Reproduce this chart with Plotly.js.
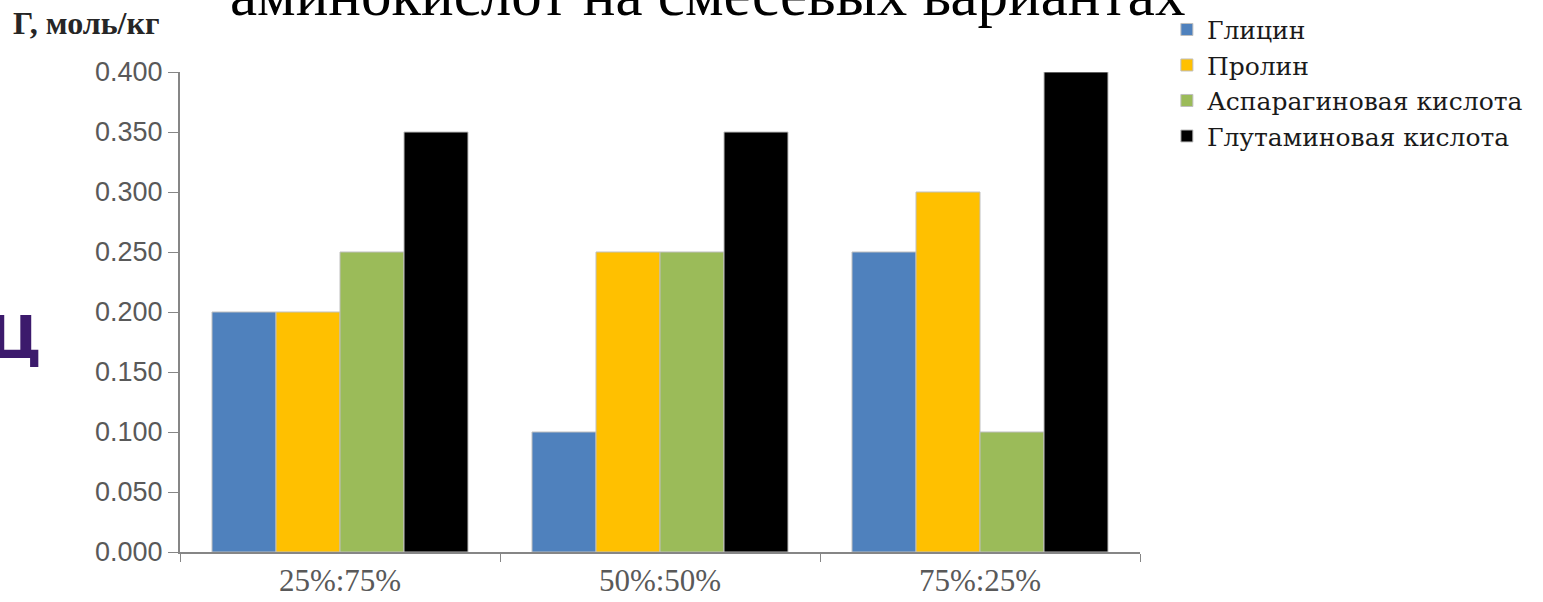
<!DOCTYPE html>
<html>
<head>
<meta charset="utf-8">
<script src="https://cdn.plot.ly/plotly-3.0.1.min.js"></script>
<style>html,body{margin:0;padding:0;background:#fff;}#chart{width:1543px;height:602px;}</style>
</head>
<body>
<div id="chart"></div>
<script>
const categories = ["25%:75%", "50%:50%", "75%:25%"];
const seriesNames = ["Глицин", "Пролин", "Аспарагиновая кислота", "Глутаминовая кислота"];
const glycine = [0.200, 0.100, 0.250];
const proline = [0.200, 0.250, 0.300];
const asparticAcid = [0.250, 0.250, 0.100];
const glutamicAcid = [0.350, 0.350, 0.400];
const colors = ["#4f81bd", "#ffc000", "#9bbb59", "#000000"];
const yTickValues = [0, 0.05, 0.1, 0.15, 0.2, 0.25, 0.3, 0.35, 0.4];
const titleText = "аминокислот на смесевых вариантах";
const yAxisLabel = "<b>Г, моль/кг</b>";
const sideLetter = "Ц";

const allValues = [glycine, proline, asparticAcid, glutamicAcid];
const traces = allValues.map((vals, i) => ({
  type: "bar",
  name: seriesNames[i],
  x: categories,
  y: vals,
  marker: {color: colors[i], line: {color: "#bfbfbf", width: 1}},
  hoverinfo: "skip"
}));

const layout = {
  width: 1543, height: 602,
  margin: {l: 180, r: 403, t: 72, b: 50, autoexpand: false},
  paper_bgcolor: "#ffffff", plot_bgcolor: "#ffffff",
  barmode: "group", bargap: 0.2, bargroupgap: 0,
  showlegend: true,
  legend: {
    x: 1.028, xref: "paper", y: 1.136, yanchor: "top", xanchor: "left",
    font: {family: "DejaVu Serif, Liberation Serif, serif", size: 25, color: "#1a1a1a"},
    itemwidth: 30, tracegroupgap: 0, bgcolor: "rgba(0,0,0,0)",
    traceorder: "normal"
  },
  xaxis: {
    type: "category", tickson: "boundaries", ticks: "outside", ticklen: 8,
    tickcolor: "#868686", showline: true, linecolor: "#868686", linewidth: 2,
    showgrid: false, zeroline: false,
    tickfont: {family: "Liberation Serif, Times New Roman, serif", size: 31, color: "#595959"}
  },
  yaxis: {
    range: [0, 0.4], tickvals: yTickValues, tickformat: ".3f",
    ticks: "outside", ticklen: 10, tickcolor: "#868686",
    showline: true, linecolor: "#868686", linewidth: 2,
    showgrid: false, zeroline: false,
    tickfont: {family: "Liberation Sans, Arial, sans-serif", size: 27, color: "#595959"}
  },
  annotations: [
    {text: titleText, xref: "paper", yref: "paper", x: 0.549, y: 1, xanchor: "center", yanchor: "bottom",
     yshift: 42, showarrow: false,
     font: {family: "Liberation Serif, Times New Roman, serif", size: 61, color: "#000000"}},
    {text: yAxisLabel, xref: "paper", yref: "paper", x: -0.176, y: 1, xanchor: "left", yanchor: "bottom",
     yshift: 29, showarrow: false,
     font: {family: "Liberation Serif, Times New Roman, serif", size: 32, color: "#262626"}},
    {text: sideLetter, xref: "paper", yref: "paper", x: -0.172, y: 0.445, xanchor: "center", yanchor: "middle",
     showarrow: false,
     font: {family: "DejaVu Sans, sans-serif", size: 58, color: "#3c1a6c", weight: "bold"}}
  ]
};

Plotly.newPlot("chart", traces, layout, {displayModeBar: false, staticPlot: true});
</script>
</body>
</html>
